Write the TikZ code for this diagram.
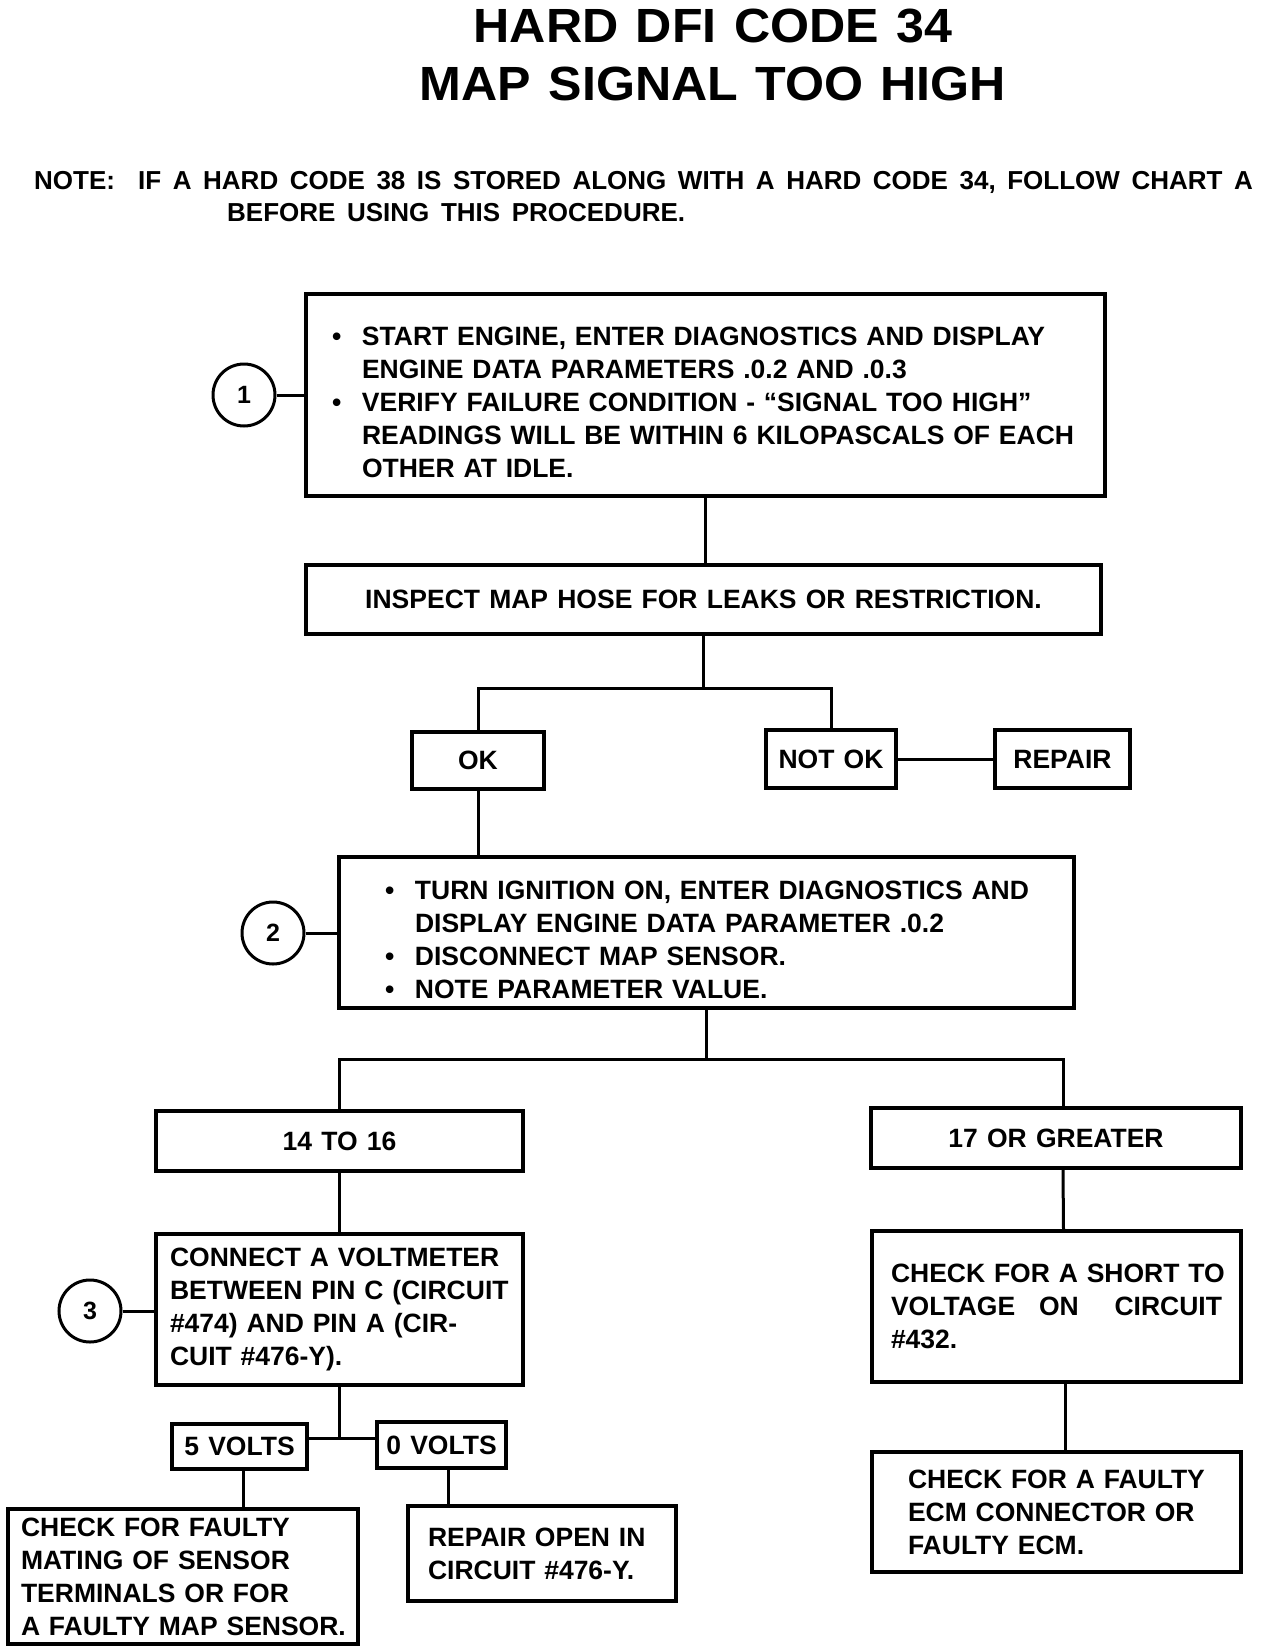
\documentclass[tikz,border=0pt]{standalone}
\usepackage{fontspec}
\setmainfont{Liberation Sans}[WordSpace=1.25]
\newfontfamily\notefam{Liberation Sans}[WordSpace=1.6]
\newcommand{\bodyf}{\bfseries\fontsize{26.5}{33}\selectfont}
\newcommand{\numf}{\bfseries\fontsize{25}{30}\selectfont}
\newcommand{\titlef}{\bfseries\fontsize{48}{58}\selectfont}
\newcommand{\notef}{\notefam\bfseries\fontsize{26}{32}\selectfont}
\newcommand{\bul}{\par\noindent\hangindent=30pt\hangafter=1\makebox[30pt][l]{\textbullet}}
\newcommand{\tline}[1]{\mbox{#1}}
\begin{document}
\begin{tikzpicture}[x=1pt,y=-1pt,
  box/.style={draw,line width=3.5pt,inner sep=0pt,font=\bodyf},
  conn/.style={line width=3pt},
  num/.style={circle,draw,line width=3pt,minimum size=62pt,inner sep=0pt,font=\numf}]
\useasboundingbox[fill=white] (0,0) rectangle (1280,1652);
% titles
\node[font=\titlef,anchor=base] (t1) at (713,42) {\scalebox{1.045}[1]{HARD DFI CODE 34}};
\node[font=\titlef,anchor=base] (t2) at (713,100) {\scalebox{1.045}[1]{MAP SIGNAL TOO HIGH}};
\node[font=\notef,anchor=base west,inner sep=0pt] (n1) at (34,189) {NOTE:\ \ IF A HARD CODE 38 IS STORED ALONG WITH A HARD CODE 34, FOLLOW CHART A};
\node[font=\notef,anchor=base west,inner sep=0pt] (n2) at (227,221) {BEFORE USING THIS PROCEDURE.};
% boxes
\node[box,minimum width=799pt,minimum height=202pt,text width=747pt,align=left] (b1) at (705.5,395) {%
\bul \tline{START ENGINE, ENTER DIAGNOSTICS AND DISPLAY}\break \tline{ENGINE DATA PARAMETERS .0.2 AND .0.3}
\bul \tline{VERIFY FAILURE CONDITION - ``SIGNAL TOO HIGH''}\break \tline{READINGS WILL BE WITHIN 6 KILOPASCALS OF EACH}\break \tline{OTHER AT IDLE.}\par};
\node[box,minimum width=795pt,minimum height=69pt] (b2) at (703.5,599.5) {INSPECT MAP HOSE FOR LEAKS OR RESTRICTION.};
\node[box,minimum width=132pt,minimum height=57pt] (ok) at (478,760.5) {OK};
\node[box,minimum width=130pt,minimum height=58pt] (nok) at (831,759) {NOT OK};
\node[box,minimum width=135pt,minimum height=58pt] (rep) at (1062.5,759) {REPAIR};
\node[box,minimum width=735pt,minimum height=151pt,text width=643pt,align=left] (b3) at (706.5,932.5) {%
\bul \tline{TURN IGNITION ON, ENTER DIAGNOSTICS AND}\break \tline{DISPLAY ENGINE DATA PARAMETER .0.2}
\bul \tline{DISCONNECT MAP SENSOR.}
\bul \tline{NOTE PARAMETER VALUE.}\par};
\node[box,minimum width=367pt,minimum height=60pt] (r14) at (339.5,1141) {14 TO 16};
\node[box,minimum width=370pt,minimum height=60pt] (r17) at (1056,1138) {17 OR GREATER};
\node[box,minimum width=367pt,minimum height=151pt,text width=339pt,align=left] (cv) at (339.5,1309.5) {\tline{CONNECT A VOLTMETER}\\ \tline{BETWEEN PIN C (CIRCUIT}\\ \tline{\#474) AND PIN A (CIR-}\\ \tline{CUIT \#476-Y).}};
\node[box,minimum width=369pt,minimum height=151pt,text width=331pt,align=left] (sh) at (1056.5,1306.5) {\tline{CHECK FOR A SHORT TO}\\ \makebox[331pt][l]{VOLTAGE\hfill\hfill ON\hfill\hfill\hfill CIRCUIT}\\ \tline{\#432.}};
\node[box,minimum width=369pt,minimum height=120pt,text width=297pt,align=left] (ecm) at (1056.5,1512) {\tline{CHECK FOR A FAULTY}\\ \tline{ECM CONNECTOR OR}\\ \tline{FAULTY ECM.}};
\node[box,minimum width=135pt,minimum height=45pt] (v5) at (239.5,1446.5) {5 VOLTS};
\node[box,minimum width=129pt,minimum height=46pt] (v0) at (441.5,1445) {0 VOLTS};
\node[box,minimum width=350pt,minimum height=135pt,text width=324pt,align=left] (mat) at (183,1576.5) {\tline{CHECK FOR FAULTY}\\ \tline{MATING OF SENSOR}\\ \tline{TERMINALS OR FOR}\\ \tline{A FAULTY MAP SENSOR.}};
\node[box,minimum width=268pt,minimum height=95pt,text width=228pt,align=left] (ro) at (542,1553.5) {\tline{REPAIR OPEN IN}\\ \tline{CIRCUIT \#476-Y.}};
% circles
\node[num] (c1) at (244,395) {1};
\node[num] (c2) at (273,933) {2};
\node[num] (c3) at (90,1311) {3};
% connectors
\draw[conn] (c1.east) -- (c1.east -| b1.west);
\draw[conn] (c2.east) -- (c2.east -| b3.west);
\draw[conn] (c3.east) -- (c3.east -| cv.west);
\draw[conn] (b1.south) -- (b1.south |- b2.north);
\path (b2.south) ++(0,53) coordinate (j1);
\draw[conn] (b2.south) -- (j1);
\draw[conn] (ok.north) |- (j1) -| (nok.north);
\draw[conn] (nok.east) -- (rep.west);
\draw[conn] (ok.south) -- (ok.south |- b3.north);
\path (b3.south) ++(0,50) coordinate (j2);
\draw[conn] (b3.south) -- (j2);
\draw[conn] (r14.north) |- (j2) -| ([xshift=7pt]r17.north);
\draw[conn] (r14.south) -- (cv.north);
\draw[conn] ([xshift=7pt]r17.south) -- ([xshift=7pt]sh.north);
\draw[conn] ([xshift=9pt]sh.south) -- ([xshift=9pt]ecm.north);
\path (cv.south) ++(0,52) coordinate (j3);
\draw[conn] (cv.south) -- (j3);
\draw[conn] (v5.east |- j3) -- (v0.west |- j3);
\draw[conn] ([xshift=4pt]v5.south) -- ([xshift=4pt]v5.south |- mat.north);
\draw[conn] ([xshift=7pt]v0.south) -- ([xshift=7pt]v0.south |- ro.north);
\end{tikzpicture}
\end{document}
